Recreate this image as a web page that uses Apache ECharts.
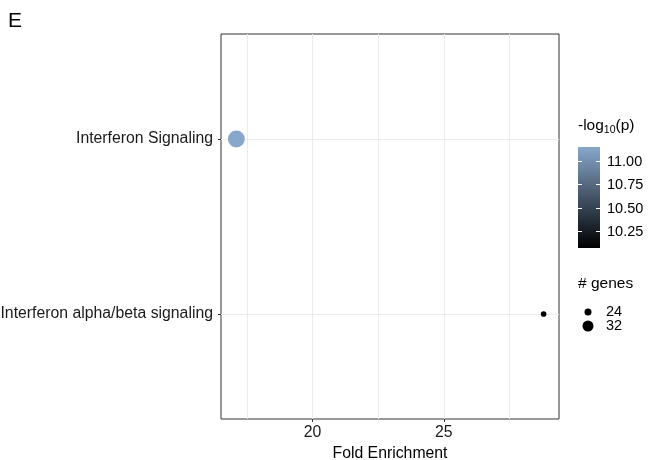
<!DOCTYPE html>
<html>
<head>
<meta charset="utf-8">
<script src="https://cdn.jsdelivr.net/npm/echarts@6/dist/echarts.min.js"></script>
<style>
  html, body { margin: 0; padding: 0; background: #fff; }
  #chart { width: 649px; height: 460px; }
</style>
</head>
<body>
<div id="chart"></div>
<script>
// pathways top to bottom
const pathways = ["Interferon Signaling", "Interferon alpha/beta signaling"];
const foldEnrichment = [17.1, 28.8];
const negLog10P = [11.15, 10.07];
const geneCounts = [50, 22];

const xTickLabels = [20, 25];
const xGridLines = [17.5, 20, 22.5, 25, 27.5];
const colorTicks = [10.25, 10.5, 10.75, 11.0];
const sizeBreaks = [24, 32];

const pMin = 10.07, pMax = 11.15;
const lowColor = "#000000", highColor = "#87a7cb";
const font = "Liberation Sans, Arial, sans-serif";

// point diameter from gene count (area-like scale)
function dotSize(n) {
  return 3 * Math.sqrt(Math.max(n - 18.5, 0.3));
}

function textWidth(str, f) {
  var ctx = document.createElement("canvas").getContext("2d");
  ctx.font = f;
  return ctx.measureText(str).width;
}

document.addEventListener("DOMContentLoaded", () => {
  var chartDom = document.getElementById("chart");
  var myChart = echarts.init(chartDom);
  var option;

  var data = pathways.map((name, i) => [
    foldEnrichment[i],
    pathways.length - i,
    negLog10P[i],
    geneCounts[i],
    name,
  ]);

  // colour bar geometry
  var barX = 578, barTop = 147, barW = 22, barH = 101;
  var yOf = (v) => barTop + ((pMax - v) / (pMax - pMin)) * barH;

  var titleFont = "15.5px " + font, subFont = "10.5px " + font;
  var w1 = textWidth("-log", titleFont);
  var w2 = textWidth("10", subFont);

  var graphics = [
    {
      type: "text",
      x: 8,
      y: 21,
      style: { text: "E", font: "21px " + font, fill: "#000", verticalAlign: "middle" },
    },
    {
      type: "text",
      x: barX,
      y: 126,
      style: { text: "-log", font: titleFont, fill: "#000", verticalAlign: "middle" },
    },
    {
      type: "text",
      x: barX + w1,
      y: 130,
      style: { text: "10", font: subFont, fill: "#000", verticalAlign: "middle" },
    },
    {
      type: "text",
      x: barX + w1 + w2,
      y: 126,
      style: { text: "(p)", font: titleFont, fill: "#000", verticalAlign: "middle" },
    },
    {
      type: "rect",
      shape: { x: barX, y: barTop, width: barW, height: barH },
      style: {
        fill: new echarts.graphic.LinearGradient(0, 0, 0, 1, [
          { offset: 0, color: highColor },
          { offset: 1, color: lowColor },
        ]),
      },
    },
    {
      type: "text",
      x: barX,
      y: 284,
      style: { text: "# genes", font: titleFont, fill: "#000", verticalAlign: "middle" },
    },
  ];

  colorTicks.forEach((v) => {
    var y = Math.round(yOf(v)) + 0.5;
    graphics.push({
      type: "line",
      shape: { x1: barX, y1: y, x2: barX + 4, y2: y },
      style: { stroke: "#fff", lineWidth: 1 },
    });
    graphics.push({
      type: "line",
      shape: { x1: barX + barW - 4, y1: y, x2: barX + barW, y2: y },
      style: { stroke: "#fff", lineWidth: 1 },
    });
    graphics.push({
      type: "text",
      x: 607,
      y: y,
      style: {
        text: v.toFixed(2),
        font: "14.5px " + font,
        fill: "#000",
        verticalAlign: "middle",
      },
    });
  });

  sizeBreaks.forEach((n, i) => {
    var y = 312 + i * 14;
    graphics.push({
      type: "circle",
      shape: { cx: 588, cy: y, r: dotSize(n) / 2 },
      style: { fill: "#000" },
    });
    graphics.push({
      type: "text",
      x: 606,
      y: y,
      style: { text: String(n), font: "14.5px " + font, fill: "#000", verticalAlign: "middle" },
    });
  });

  option = {
    backgroundColor: "#fff",
    animation: false,
    grid: {
      left: 221,
      right: 90,
      top: 34,
      bottom: 41,
      containLabel: false,
      outerBoundsMode: "none",
      show: true,
      borderColor: "#333",
      borderWidth: 1,
      backgroundColor: "transparent",
    },
    xAxis: [
      {
        type: "value",
        min: 16.515,
        max: 29.385,
        name: "Fold Enrichment",
        nameLocation: "middle",
        nameGap: 27,
        nameTextStyle: { fontFamily: font, fontSize: 15.8, color: "#000" },
        axisLine: { show: false },
        axisTick: { show: true, length: 3, lineStyle: { color: "#333" }, customValues: xTickLabels },
        axisLabel: {
          customValues: xTickLabels,
          fontFamily: font,
          fontSize: 15.8,
          color: "#1a1a1a",
          margin: 6,
        },
        splitLine: { show: false },
      },
      {
        type: "value",
        min: 16.515,
        max: 29.385,
        position: "bottom",
        axisLine: { show: false },
        axisTick: { show: false, customValues: xGridLines },
        axisLabel: { show: false, customValues: xGridLines },
        splitLine: { show: true, lineStyle: { color: "#ebebeb", width: 1 } },
      },
    ],
    yAxis: {
      type: "value",
      min: 0.4,
      max: 2.6,
      axisLine: { show: false },
      axisTick: { show: true, length: 3, lineStyle: { color: "#333" }, customValues: [1, 2] },
      axisLabel: {
        customValues: [1, 2],
        formatter: (v) => pathways[pathways.length - Math.round(v)],
        fontFamily: font,
        fontSize: 15.8,
        color: "#1a1a1a",
        margin: 8,
      },
      splitLine: { show: true, lineStyle: { color: "#ebebeb", width: 1 } },
    },
    visualMap: {
      show: false,
      type: "continuous",
      dimension: 2,
      min: pMin,
      max: pMax,
      seriesIndex: 0,
      inRange: { color: [lowColor, highColor] },
    },
    series: [
      {
        type: "scatter",
        xAxisIndex: 0,
        data: data,
        symbolSize: (d) => dotSize(d[3]),
        itemStyle: { opacity: 1 },
        z: 5,
      },
    ],
    graphic: graphics,
  };

  option && myChart.setOption(option);
});
</script>
</body>
</html>
